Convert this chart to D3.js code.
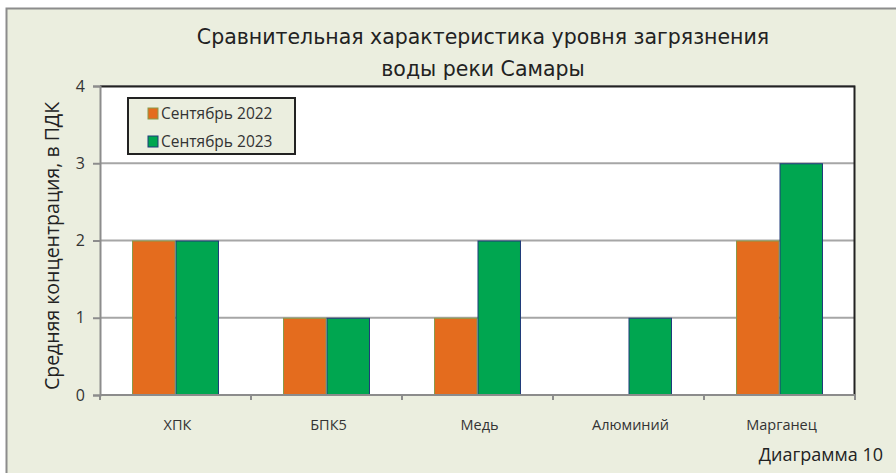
<!DOCTYPE html>
<html>
<head>
<meta charset="utf-8">
<script src="https://cdn.jsdelivr.net/npm/d3@7"></script>
<style>
  body { margin: 0; background: #fff; }
  svg { display: block; }
</style>
</head>
<body>
<svg class="bar-chart"></svg>
<script>
var categories = ["ХПК", "БПК5", "Медь", "Алюминий", "Марганец"];
var seriesNames = ["Сентябрь 2022", "Сентябрь 2023"];
var sep2022 = [2, 1, 1, 0, 2];
var sep2023 = [2, 1, 2, 1, 3];
var yTicks = [0, 1, 2, 3, 4];

var svgWidth = 896, svgHeight = 473;
var colors = ["#E46C1E", "#00A650"];
var edges = ["#8A9A4A", "#1F3A7A"];

var svg = d3.select('svg.bar-chart')
    .attr("width", svgWidth)
    .attr("height", svgHeight);

// chart background with gray frame
svg.append("rect")
    .attr("x", 6.5).attr("y", 8.5)
    .attr("width", svgWidth).attr("height", svgHeight)
    .attr("fill", "#EBEEDF")
    .attr("stroke", "#8c8c8c")
    .attr("stroke-width", 2);

var plot = { left: 100, top: 86, right: 855, bottom: 395 };
var width = plot.right - plot.left,
    height = plot.bottom - plot.top;

var xScale = d3.scaleBand().domain(categories).range([0, width])
    .paddingInner(0.424).paddingOuter(0.212);
var xSub = d3.scaleBand().domain([0, 1]).range([0, xScale.bandwidth()]);
var yScale = d3.scaleLinear().domain([0, 4]).range([height, 0]);

var g = svg.append("g")
    .attr("transform", "translate(" + plot.left + "," + plot.top + ")");

g.append("rect")
    .attr("width", width).attr("height", height)
    .attr("fill", "#fff");

// gridlines
g.append("g")
    .selectAll("line")
    .data(yTicks.slice(1))
    .enter()
    .append("line")
    .attr("x1", 0).attr("x2", width)
    .attr("y1", function (d) { return yScale(d); })
    .attr("y2", function (d) { return yScale(d); })
    .attr("stroke", "#a6a6a6")
    .attr("stroke-width", 2);

// bars, one group per category
var rows = categories.map(function (c, i) { return [sep2022[i], sep2023[i]]; });
var groups = g.selectAll(".grp")
    .data(rows)
    .enter()
    .append("g")
    .attr("transform", function (d, i) { return "translate(" + xScale(categories[i]) + ",0)"; });

groups.each(function (d) {
    var grp = d3.select(this);
    d.forEach(function (v, j) {
        if (v <= 0) return;
        grp.append("rect")
            .attr("x", xSub(j) + 0.5)
            .attr("y", yScale(v) + 0.5)
            .attr("width", xSub.bandwidth() - 1)
            .attr("height", height - yScale(v) - 0.5)
            .attr("fill", colors[j])
            .attr("stroke", edges[j])
            .attr("stroke-width", 1);
    });
});

// plot frame top and right
g.append("path")
    .attr("d", "M0,0.5H" + (width - 0.5) + "V" + height)
    .attr("fill", "none")
    .attr("stroke", "#222")
    .attr("stroke-width", 2);

// y axis
var yAxis = g.append("g")
    .call(d3.axisLeft(yScale).tickValues(yTicks).tickSize(7).tickPadding(8).tickFormat(d3.format("d")));
yAxis.select(".domain").attr("stroke", "#8c8c8c").attr("stroke-width", 2);
yAxis.selectAll(".tick line").attr("stroke", "#8c8c8c").attr("stroke-width", 2);
yAxis.selectAll("text")
    .style("font-family", "Open Sans")
    .style("font-size", "16px")
    .attr("fill", "#333");

// x axis
var xAxis = g.append("g")
    .attr("transform", "translate(0," + height + ")");
xAxis.append("line")
    .attr("x1", 0).attr("x2", width)
    .attr("stroke", "#8c8c8c").attr("stroke-width", 2);
xAxis.selectAll(".xt")
    .data(d3.range(categories.length + 1))
    .enter()
    .append("line")
    .attr("x1", function (i) { return i * xScale.step(); })
    .attr("x2", function (i) { return i * xScale.step(); })
    .attr("y1", 0).attr("y2", 5)
    .attr("stroke", "#8c8c8c").attr("stroke-width", 2);
xAxis.selectAll(".xl")
    .data(categories)
    .enter()
    .append("text")
    .attr("x", function (d) { return xScale(d) + xScale.bandwidth() / 2 + 2; })
    .attr("y", 35)
    .attr("text-anchor", "middle")
    .style("font-family", "Open Sans")
    .style("font-size", "14.5px")
    .attr("fill", "#333")
    .text(function (d) { return d; });

// title
var title = svg.append("text")
    .attr("text-anchor", "middle")
    .style("font-family", "DejaVu Sans")
    .style("font-size", "20.5px")
    .attr("fill", "#222");
title.append("tspan").attr("x", 483).attr("y", 44).text("Сравнительная характеристика уровня загрязнения");
title.append("tspan").attr("x", 483).attr("y", 76).text("воды реки Самары");

// y label
svg.append("text")
    .attr("text-anchor", "middle")
    .attr("transform", "translate(59,246)rotate(-90)")
    .style("font-family", "Open Sans")
    .style("font-size", "19.5px")
    .attr("fill", "#222")
    .text("Средняя концентрация, в ПДК");

// footer
svg.append("text")
    .attr("x", 883).attr("y", 461)
    .attr("text-anchor", "end")
    .style("font-family", "Open Sans")
    .style("font-size", "18px")
    .attr("fill", "#222")
    .text("Диаграмма 10");

// legend
var legend = svg.append("g").attr("transform", "translate(128,98)");
legend.append("rect")
    .attr("width", 167).attr("height", 56)
    .attr("fill", "#EBEEDF")
    .attr("stroke", "#222")
    .attr("stroke-width", 2);
var li = legend.selectAll(".li")
    .data(seriesNames)
    .enter()
    .append("g")
    .attr("transform", function (d, i) { return "translate(20," + (10 + i * 28) + ")"; });
li.append("rect")
    .attr("width", 10).attr("height", 11)
    .attr("fill", function (d, i) { return colors[i]; })
    .attr("stroke", function (d, i) { return edges[i]; })
    .attr("stroke-width", 1);
li.append("text")
    .attr("x", 13).attr("y", 11)
    .style("font-family", "Open Sans")
    .style("font-size", "15.5px")
    .attr("fill", "#333")
    .text(function (d) { return d; });
</script>
</body>
</html>
